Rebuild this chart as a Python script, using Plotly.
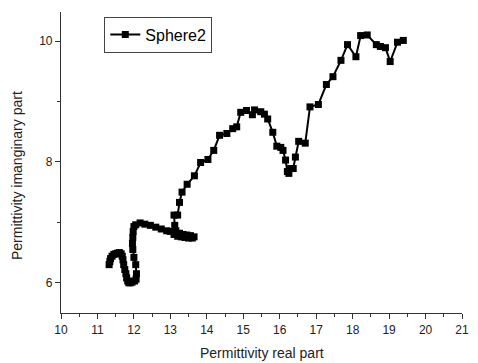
import plotly.graph_objects as go

real_part = [11.32, 11.34, 11.36, 11.40, 11.45, 11.50, 11.55, 11.60, 11.65, 11.68, 11.70, 11.72,
             11.75, 11.78, 11.80, 11.83, 11.86, 11.90, 11.95, 12.02, 12.06, 12.07, 12.05, 12.00,
             11.97, 11.96, 11.97, 11.98, 12.00, 12.05, 12.17, 12.30, 12.45, 12.60, 12.75, 12.90,
             13.00, 13.10, 13.20, 13.30, 13.40, 13.50, 13.60, 13.65, 13.55, 13.45, 13.35, 13.25,
             13.15, 13.12, 13.10, 13.20, 13.25,
             13.32, 13.46, 13.66, 13.83, 14.03, 14.19, 14.35, 14.55, 14.71, 14.82, 14.93, 15.09,
             15.25, 15.31, 15.48, 15.58, 15.67, 15.81, 15.92, 16.03, 16.09, 16.16, 16.21, 16.25,
             16.30, 16.37, 16.43, 16.52, 16.70, 16.83, 17.06, 17.28, 17.46, 17.68, 17.86, 18.09,
             18.22, 18.40, 18.65, 18.76, 18.90, 19.03, 19.23, 19.39]
imag_part = [6.30, 6.35, 6.40, 6.44, 6.47, 6.48, 6.49, 6.50, 6.48, 6.44, 6.38, 6.30,
             6.22, 6.15, 6.08, 6.03, 6.00, 6.00, 6.01, 6.03, 6.06, 6.15, 6.30, 6.42,
             6.55, 6.65, 6.75, 6.85, 6.93, 6.96, 6.99, 6.97, 6.95, 6.92, 6.89, 6.86,
             6.85, 6.80, 6.77, 6.76, 6.75, 6.74, 6.74, 6.76, 6.78, 6.79, 6.80, 6.82,
             6.86, 6.95, 7.12, 7.12, 7.33,
             7.50, 7.63, 7.77, 7.99, 8.04, 8.19, 8.44, 8.47, 8.55, 8.58, 8.82, 8.85,
             8.78, 8.86, 8.83, 8.79, 8.71, 8.49, 8.26, 8.24, 8.19, 8.03, 7.84, 7.81,
             7.89, 7.89, 8.08, 8.34, 8.31, 8.91, 8.95, 9.28, 9.41, 9.68, 9.94, 9.74,
             10.09, 10.10, 9.94, 9.91, 9.89, 9.66, 9.98, 10.01]

x_ticks = list(range(10, 22))
y_ticks = [6, 8, 10]

fig = go.Figure()
fig.add_trace(go.Scatter(
    x=real_part, y=imag_part, mode="lines+markers", name="Sphere2",
    line=dict(color="black", width=2),
    marker=dict(symbol="square", size=7, color="black"),
))

axis_font = dict(family="Arial, Liberation Sans", size=12, color="#222")
fig.update_layout(
    width=478, height=363,
    margin=dict(l=61, r=9, t=12, b=50),
    paper_bgcolor="white", plot_bgcolor="white",
    showlegend=True,
    legend=dict(x=0.108, y=0.985, xanchor="left", yanchor="top",
                bordercolor="#444", borderwidth=1, bgcolor="white",
                font=dict(family="Arial, Liberation Sans", size=16, color="black"),
                itemwidth=30, tracegroupgap=0),
    xaxis=dict(range=[10, 21], tickvals=x_ticks, ticktext=[str(v) for v in x_ticks],
               showline=True, linecolor="#333", linewidth=1.2, showgrid=False, zeroline=False,
               ticks="outside", ticklen=5, tickcolor="#333", tickfont=axis_font,
               minor=dict(dtick=0.5, ticks="outside", ticklen=3, tickcolor="#333", showgrid=False)),
    yaxis=dict(range=[5.5, 10.48], tickvals=y_ticks, ticktext=[str(v) for v in y_ticks],
               showline=True, linecolor="#333", linewidth=1.2, showgrid=False, zeroline=False,
               ticks="outside", ticklen=5, tickcolor="#333", tickfont=axis_font,
               minor=dict(tickvals=[7, 9], ticks="outside", ticklen=3, tickcolor="#333", showgrid=False)),
    annotations=[
        dict(text="Permittivity real part", xref="paper", yref="paper", x=0.5, y=0,
             yshift=-40, yanchor="middle", showarrow=False,
             font=dict(family="Arial, Liberation Sans", size=14, color="#222")),
        dict(text="Permittivity imanginary part", xref="paper", yref="paper", x=0, y=0.455,
             xshift=-44, xanchor="center", yanchor="middle", textangle=-90, showarrow=False,
             font=dict(family="Arial, Liberation Sans", size=14, color="#222")),
    ],
)

fig.write_html("out.html")
